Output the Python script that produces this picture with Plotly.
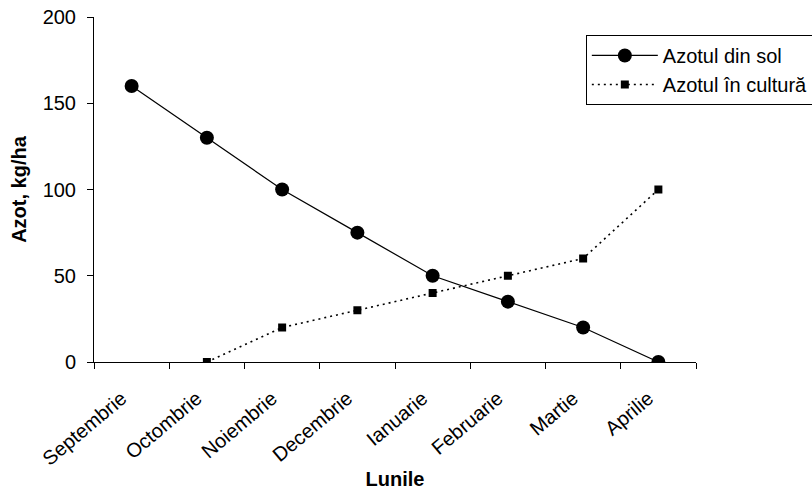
import plotly.graph_objects as go

# Months of the growing season
luni = ["Septembrie", "Octombrie", "Noiembrie", "Decembrie",
        "Ianuarie", "Februarie", "Martie", "Aprilie"]

# Nitrogen in soil and in crop, kg/ha
azot_sol = [160, 130, 100, 75, 50, 35, 20, 0]
azot_cultura = [None, 0, 20, 30, 40, 50, 60, 100]

FONT = "Liberation Sans, Arial, sans-serif"

fig = go.Figure()
fig.add_trace(go.Scatter(
    x=luni, y=azot_sol, name="Azotul din sol",
    mode="lines+markers",
    line=dict(color="black", width=1.2),
    marker=dict(symbol="circle", size=14, color="black"),
))
fig.add_trace(go.Scatter(
    x=luni, y=azot_cultura, name="Azotul în cultură",
    mode="lines+markers",
    line=dict(color="black", width=1.6, dash="2px,4px"),
    marker=dict(symbol="square", size=8, color="black"),
))

fig.update_layout(
    template="none",
    width=812, height=490,
    margin=dict(l=94, r=116, t=17, b=128, autoexpand=False),
    paper_bgcolor="white", plot_bgcolor="white",
    font=dict(family=FONT, size=20, color="black"),
    showlegend=True,
    legend=dict(
        x=0.817, y=0.948, xanchor="left", yanchor="top",
        bordercolor="black", borderwidth=1, bgcolor="white",
        font=dict(size=20), itemwidth=66,
        tracegroupgap=0,
    ),
    xaxis=dict(
        type="category", range=[-0.5, 7.5], automargin=False,
        tickson="boundaries", ticks="outside", ticklen=6, tickwidth=1,
        tickcolor="black", tickangle=-40,
        ticklabelstandoff=16, ticklabelshift=-10,
        showline=True, linecolor="black", linewidth=1,
        showgrid=False, zeroline=False,
        tickfont=dict(size=20),
        title=dict(text="<b>Lunile</b>", font=dict(size=20), standoff=14),
    ),
    yaxis=dict(
        range=[0, 200], tickvals=[0, 50, 100, 150, 200], automargin=False,
        ticks="outside", ticklen=6, tickwidth=1, tickcolor="black",
        ticklabelstandoff=7,
        showline=True, linecolor="black", linewidth=1,
        showgrid=False, zeroline=False,
        tickfont=dict(size=20),
        title=dict(text="<b>Azot, kg/ha</b>", font=dict(size=20), standoff=10),
    ),
)

fig.write_html("out.html")
